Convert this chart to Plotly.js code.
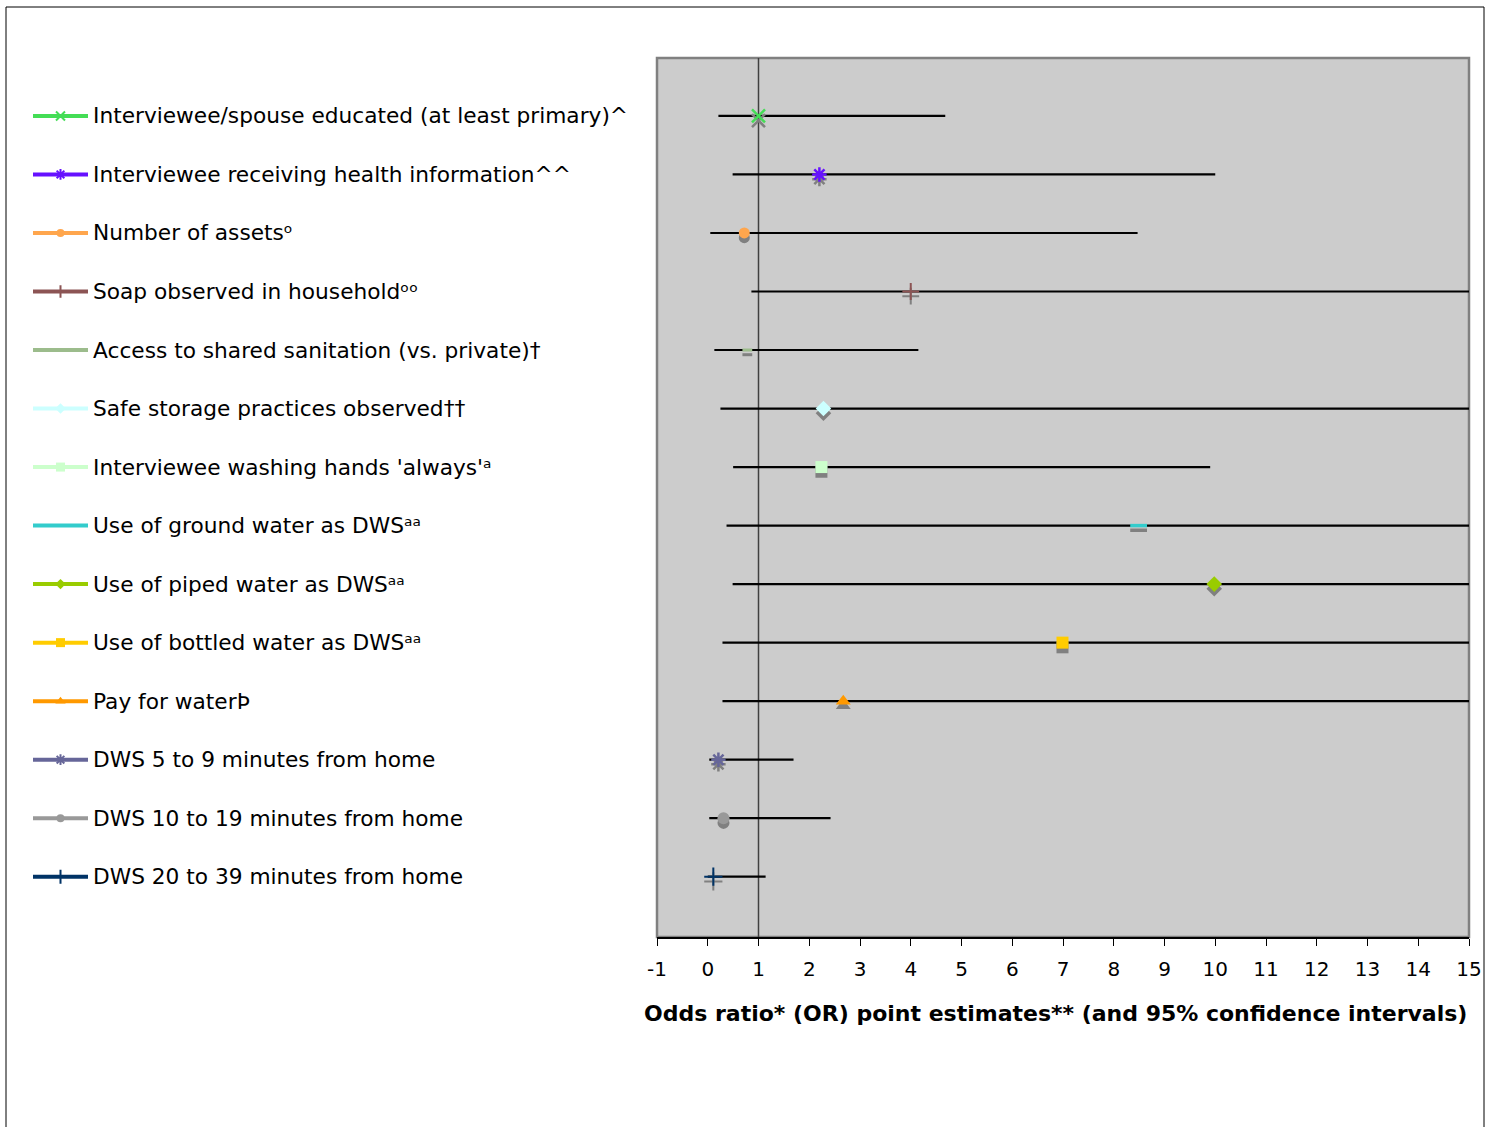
<!DOCTYPE html>
<html>
<head>
<meta charset="utf-8">
<script src="https://cdn.plot.ly/plotly-3.0.1.min.js"></script>
<style>
  html, body { margin: 0; padding: 0; background: #ffffff; }
  #chart { width: 1494px; height: 1127px; }
</style>
</head>
<body>
<div id="chart"></div>
<script>
// Risk factors, top to bottom
const factors = [
  "Interviewee/spouse educated (at least primary)^",
  "Interviewee receiving health information^^",
  "Number of assets\u1d52",
  "Soap observed in household\u1d52\u1d52",
  "Access to shared sanitation (vs. private)\u2020",
  "Safe storage practices observed\u2020\u2020",
  "Interviewee washing hands 'always'\u1d43",
  "Use of ground water as DWS\u1d43\u1d43",
  "Use of piped water as DWS\u1d43\u1d43",
  "Use of bottled water as DWS\u1d43\u1d43",
  "Pay for water\u00de",
  "DWS 5 to 9 minutes from home",
  "DWS 10 to 19 minutes from home",
  "DWS 20 to 39 minutes from home"
];

// Odds ratio point estimates
const oddsRatio = [1.0, 2.2, 0.72, 4.0, 0.78, 2.28, 2.24, 8.49, 9.98, 6.99, 2.67, 0.21, 0.31, 0.11];
// 95% confidence interval bounds (upper bounds above 15 run off the axis)
const ciLower = [0.21, 0.49, 0.05, 0.86, 0.13, 0.25, 0.50, 0.37, 0.49, 0.29, 0.29, 0.03, 0.03, 0.00];
const ciUpper = [4.68, 10.0, 8.47, 18.0, 4.15, 18.0, 9.90, 18.0, 18.0, 18.0, 18.0, 1.69, 2.42, 1.14];

// Axis ticks
const tickValues = [-1, 0, 1, 2, 3, 4, 5, 6, 7, 8, 9, 10, 11, 12, 13, 14, 15];
const tickLabels = ["-1", "0", "1", "2", "3", "4", "5", "6", "7", "8", "9", "10", "11", "12", "13", "14", "15"];

// Marker styling for each factor
const colors = ["#44dd55", "#6611ff", "#ffa64d", "#8c5454", "#9cbc8c", "#ccffff", "#ccffcc",
                "#33cccc", "#99cc00", "#ffcc00", "#ff9900", "#666699", "#999999", "#003366"];
const symbols = ["x-thin-open", "asterisk-open", "circle", "cross-thin-open", "line-ew-open", "diamond", "square",
                 "line-ew-open", "diamond", "square", "triangle-up", "asterisk-open", "circle", "cross-thin-open"];
const sizes = [13, 12, 11, 12, 7, 12, 12, 12, 12, 12, 13, 12, 12, 13];
const lineWidths = [2.5, 2.5, 0, 2, 3, 0, 0, 3.5, 0, 0, 0, 2.5, 0, 2];
const legendSizes = [9, 9, 8, 9, 0, 8, 9, 0, 8, 9, 9, 9, 8, 10];

const rows = factors.map((_, i) => i);
const shadowShift = 0.08;
const FONT = "DejaVu Sans, Verdana, sans-serif";

const traces = [];

// Confidence intervals
traces.push({
  type: "scatter", mode: "markers", x: oddsRatio, y: rows,
  marker: { size: 1, opacity: 0 },
  error_x: {
    type: "data", symmetric: false,
    array: oddsRatio.map((v, i) => ciUpper[i] - v),
    arrayminus: oddsRatio.map((v, i) => v - ciLower[i]),
    color: "#000000", thickness: 2.2, width: 0
  },
  hoverinfo: "skip", showlegend: false, xaxis: "x", yaxis: "y"
});

// Drop shadows under the point estimates
traces.push({
  type: "scatter", mode: "markers", x: oddsRatio, y: rows.map(r => r + shadowShift),
  marker: {
    symbol: symbols, size: sizes, color: "#808080", opacity: 1,
    line: { color: "#808080", width: lineWidths }
  },
  hoverinfo: "skip", showlegend: false, xaxis: "x", yaxis: "y"
});

// Point estimates
traces.push({
  type: "scatter", mode: "markers", x: oddsRatio, y: rows,
  marker: {
    symbol: symbols, size: sizes, color: colors, opacity: 1,
    line: { color: colors, width: lineWidths }
  },
  text: factors, hovertemplate: "%{text}<br>OR %{x}<extra></extra>",
  showlegend: false, xaxis: "x", yaxis: "y"
});

// Legend keys: a coloured line with the marker in the middle
factors.forEach((f, i) => {
  traces.push({
    type: "scatter", mode: "lines+markers", x: [0, 0.5, 1], y: [i, i, i],
    line: { color: colors[i], width: 4 },
    marker: {
      symbol: symbols[i], size: [0, legendSizes[i], 0], color: colors[i], opacity: 1,
      line: { color: colors[i], width: lineWidths[i] ? 2 : 0 }
    },
    hoverinfo: "skip", showlegend: false, xaxis: "x2", yaxis: "y"
  });
});

const W = 1494, H = 1127;
const plotLeft = 657 / W, plotRight = 1469 / W;
const plotTop = 1 - 58 / H, plotBottom = 1 - 937 / H;

const annotations = factors.map((f, i) => ({
  xref: "paper", yref: "y", x: 91 / W, y: i, xanchor: "left", yanchor: "middle",
  text: f, showarrow: false, font: { family: FONT, size: 21.7, color: "#000000" }
}));

// axis title
annotations.push({
  xref: "paper", yref: "paper", x: 1055 / W, y: 1 - 1013 / H, xanchor: "center", yanchor: "middle",
  text: "<b>Odds ratio* (OR) point estimates** (and 95% confidence intervals)</b>",
  showarrow: false, font: { family: FONT, size: 22, color: "#000000" }
});

const layout = {
  width: W, height: H,
  margin: { l: 0, r: 0, t: 0, b: 0 },
  paper_bgcolor: "#ffffff", plot_bgcolor: "rgba(0,0,0,0)",
  showlegend: false,
  font: { family: FONT, color: "#000000" },
  xaxis: {
    domain: [plotLeft, plotRight], anchor: "y",
    range: [-1, 15], tickmode: "array", tickvals: tickValues, ticktext: tickLabels,
    ticks: "outside", ticklen: 7, tickwidth: 1, tickcolor: "#000000", ticklabelstandoff: 6,
    showline: true, linecolor: "#000000", linewidth: 1.5,
    showgrid: false, zeroline: false, automargin: false,
    tickfont: { family: FONT, size: 20, color: "#000000" }
  },
  xaxis2: {
    domain: [33 / W, 88 / W], anchor: "y", range: [0, 1], visible: false, fixedrange: true
  },
  yaxis: {
    domain: [plotBottom, plotTop], range: [14.03, -0.99],
    visible: false, showgrid: false, zeroline: false, automargin: false
  },
  shapes: [
    // outer frame
    { type: "rect", xref: "paper", yref: "paper", x0: 6 / W, x1: 1484 / W, y0: -0.02, y1: 1 - 7 / H,
      line: { color: "#000000", width: 1 }, fillcolor: "rgba(0,0,0,0)", layer: "below" },
    // plot background
    { type: "rect", xref: "x domain", yref: "y domain", x0: 0, x1: 1, y0: 0, y1: 1,
      fillcolor: "#cccccc", line: { color: "#808080", width: 2.5 }, layer: "below" },
    // reference line at OR = 1
    { type: "line", xref: "x", yref: "y domain", x0: 1, x1: 1, y0: 0, y1: 1,
      line: { color: "#404040", width: 1.5 }, layer: "below" }
  ],
  annotations: annotations
};

Plotly.newPlot("chart", traces, layout, { displayModeBar: false, staticPlot: true });
</script>
</body>
</html>
